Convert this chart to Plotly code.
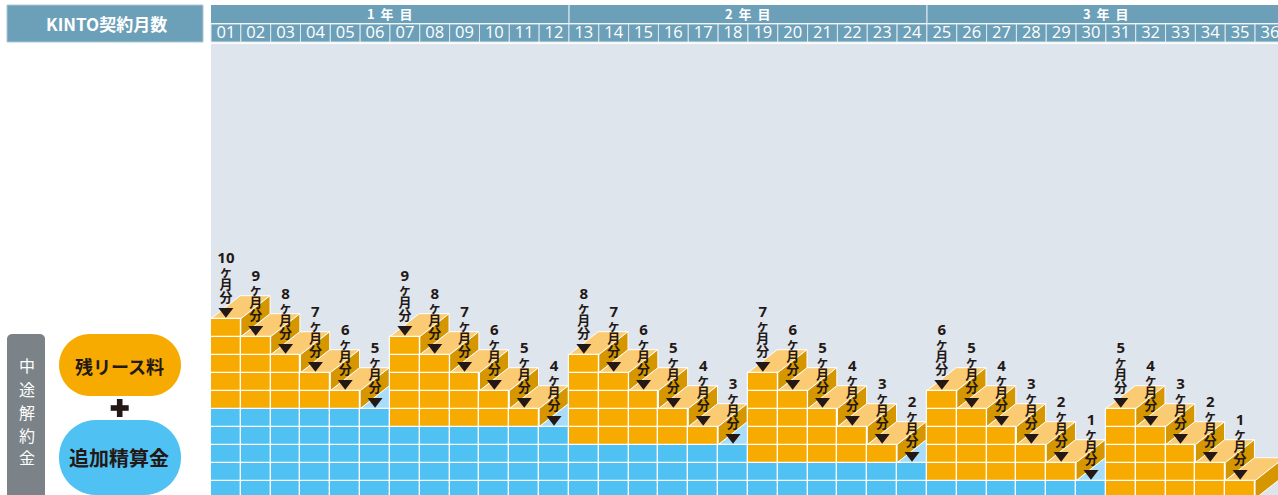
import math
import plotly.graph_objects as go

# ---- data ----
months = list(range(1, 37))
month_labels = [f"{m:02d}" for m in months]
remaining = [10, 9, 8, 7, 6, 5,
             9, 8, 7, 6, 5, 4,
             8, 7, 6, 5, 4, 3,
             7, 6, 5, 4, 3, 2,
             6, 5, 4, 3, 2, 1,
             5, 4, 3, 2, 1, 0]
blue_cells = [5] * 6 + [4] * 6 + [3] * 6 + [2] * 6 + [1] * 6 + [0] * 6
year_labels = ["1\u00a0\u00a0年\u00a0\u00a0目", "2\u00a0\u00a0年\u00a0\u00a0目", "3\u00a0\u00a0年\u00a0\u00a0目"]
year_center = [6.5, 18.5, 30.5]
left_title = "KINTO契約月数"
side_title = ["中", "途", "解", "約", "金"]
pill_top = "残リース料"
pill_bottom = "追加精算金"

# ---- styling ----
W, H = 1278, 495
X0, CW = 211.0, 29.83
CH, Y0 = 18.0, 498.7
ORANGE, BLUE = "#f7ab00", "#4fc1f2"
TOP_O, SIDE_O, TOP_B = "#fbcb73", "#d69600", "#a9dcf8"
HEAD, BG, DARK, GREY = "#6ca0b8", "#dee5ed", "#231815", "#7b8388"
JP = "Noto Sans CJK JP"
LAT = "Open Sans"
DX, DY = 0.98, 23 / 18


def px(u):
    return u / W


def py(v):
    return 1 - v / H


def lv(v):  # pixel row -> level
    return (Y0 - v) / CH


def rect(x0, y0, x1, y1, fill, line=None, lw=1, layer="above"):
    return dict(type="rect", xref="paper", yref="paper", x0=px(x0), x1=px(x1), y0=py(y0), y1=py(y1),
                fillcolor=fill, line=dict(color=line or fill, width=lw if line else 0), layer=layer)


def rounded(x0, y0, x1, y1, r, fill):
    pts = []
    for cx, cy, a0 in [(x1 - r, y0 + r, -90), (x1 - r, y1 - r, 0), (x0 + r, y1 - r, 90), (x0 + r, y0 + r, 180)]:
        for k in range(13):
            a = math.radians(a0 + k * 7.5)
            pts.append((cx + r * math.cos(a), cy + r * math.sin(a)))
    d = "M" + "L".join(f"{px(a):.5f},{py(b):.5f}" for a, b in pts) + "Z"
    return dict(type="path", xref="paper", yref="paper", path=d, fillcolor=fill, line=dict(width=0), layer="above")


fig = go.Figure()

# top and side faces
top_o_x, top_o_y, top_b_x, top_b_y, side_x, side_y = [], [], [], [], [], []
for i, m in enumerate(months):
    t = remaining[i]
    if t == 0:
        continue
    nxt = remaining[i + 1] if i + 1 < len(months) else 0
    l, r = m - 0.5, m + 0.5
    xs = [l, r, r + DX, l + DX, l, None]
    ys = [t, t, t + DY, t + DY, t, None]
    if t > blue_cells[i]:
        top_o_x += xs
        top_o_y += ys
    else:
        top_b_x += xs
        top_b_y += ys
    if nxt < t:
        side_x += [r, r + DX, r + DX, r, r, None]
        side_y += [t, t + DY, nxt + DY, nxt, t, None]

for xs, ys, col in [(top_b_x, top_b_y, TOP_B), (top_o_x, top_o_y, TOP_O), (side_x, side_y, SIDE_O)]:
    fig.add_trace(go.Scatter(x=xs, y=ys, mode="lines", fill="toself", fillcolor=col,
                             line=dict(color="#ffffff", width=1), hoverinfo="skip", zorder=0))

# stacked cells
for col, selector in [(BLUE, lambda i, k: k < blue_cells[i]), (ORANGE, lambda i, k: k >= blue_cells[i])]:
    cx, cb = [], []
    for i, m in enumerate(months):
        for k in range(remaining[i]):
            if selector(i, k):
                cx.append(m)
                cb.append(k)
    fig.add_trace(go.Bar(x=cx, y=[1] * len(cx), base=cb, width=1, marker=dict(color=col, line=dict(color="#ffffff", width=1.2)),
                         hoverinfo="skip", zorder=1))

# triangles and vertical labels
lab_x = [m for m, t in zip(months, remaining) if t > 0]
lab_t = [t for t in remaining if t > 0]
fig.add_trace(go.Scatter(x=lab_x, y=[t + 0.42 for t in lab_t], mode="markers",
                         marker=dict(symbol="triangle-down", size=13, color=DARK, line=dict(width=0)), hoverinfo="skip", zorder=2))


def vlabel(t):
    d = f"<span style='font-size:15px;font-family:{LAT};font-weight:700'>{t}</span>"
    rest = [f"<span style='font-size:{s}px;font-weight:700'>{c}</span>" for c, s in [("ヶ", 13), ("月", 13), ("分", 13)]]
    return "<br>".join([d] + rest)


# trace font size sets the 13 px line pitch of the stacked label
fig.add_trace(go.Scatter(x=lab_x, y=[t + 39 / CH for t in lab_t], mode="text", text=[vlabel(t) for t in lab_t],
                         textposition="middle center", textfont=dict(family=JP, size=10, color=DARK),
                         hoverinfo="skip", zorder=3))

# header
shapes = [
    dict(type="rect", xref="x", yref="y", x0=0.5, x1=37, y0=0, y1=lv(44), fillcolor=BG, line=dict(width=0), layer="below"),
    rect(7, 5, 203, 42, HEAD, "#a9c8d6", 1),
    rect(211, 5, W + 5, 23, HEAD, layer="below"),
    rounded(7, 334, 45, 505, 5, GREY),
    rounded(59, 334, 181, 396, 31, ORANGE),
    rounded(59, 420, 181, 495, 37, BLUE),
    rect(110.7, 405.2, 128.7, 410.8, DARK),
    rect(116.9, 399, 122.5, 417, DARK),
]
for b in [12, 24]:
    shapes.append(dict(type="line", xref="x", yref="paper", x0=b + 0.5, x1=b + 0.5, y0=py(5), y1=py(23),
                       line=dict(color="#ffffff", width=1)))
for m in months:
    shapes.append(dict(type="rect", xref="x", yref="paper", x0=m - 0.5, x1=m + 0.5, y0=py(24), y1=py(42),
                       fillcolor=HEAD, line=dict(color="#dfeaef", width=1), layer="below"))

fig.add_trace(go.Scatter(x=months, y=[lv(33.5)] * 36, mode="text", text=month_labels, textposition="middle center",
                         textfont=dict(family=LAT, size=16.5, color="#ffffff"), hoverinfo="skip", zorder=3))

ann = []


def note(x, y, text, size, color="#ffffff", bold=True, fam=JP):
    ann.append(dict(xref="paper", yref="paper", x=px(x), y=py(y), text=f"<b>{text}</b>" if bold else text,
                    showarrow=False, xanchor="center", yanchor="middle",
                    font=dict(family=fam, size=size, color=color)))


note(106, 24, left_title, 17)
for lbl, c in zip(year_labels, year_center):
    note(X0 + (c - 0.5) * CW, 14, lbl, 13)
for ch, y in zip(side_title, [365, 389, 412, 435, 457]):
    note(26.5, y, ch, 16, bold=False)
note(119.5, 366, pill_top, 18, DARK)
note(119, 457, pill_bottom, 20, DARK)

fig.update_layout(
    width=W, height=H, margin=dict(l=0, r=0, t=0, b=0), showlegend=False, autosize=False,
    paper_bgcolor="#ffffff", plot_bgcolor="#ffffff", barmode="overlay", bargap=0,
    xaxis=dict(range=[0.5 - X0 / CW, 0.5 + (W - X0) / CW], visible=False, fixedrange=True),
    yaxis=dict(range=[lv(H), lv(0)], visible=False, fixedrange=True),
    shapes=shapes, annotations=ann,
)
fig.write_html("out.html", config=dict(displayModeBar=False),
               post_script="document.body.style.margin='0';document.body.style.overflow='hidden';")
